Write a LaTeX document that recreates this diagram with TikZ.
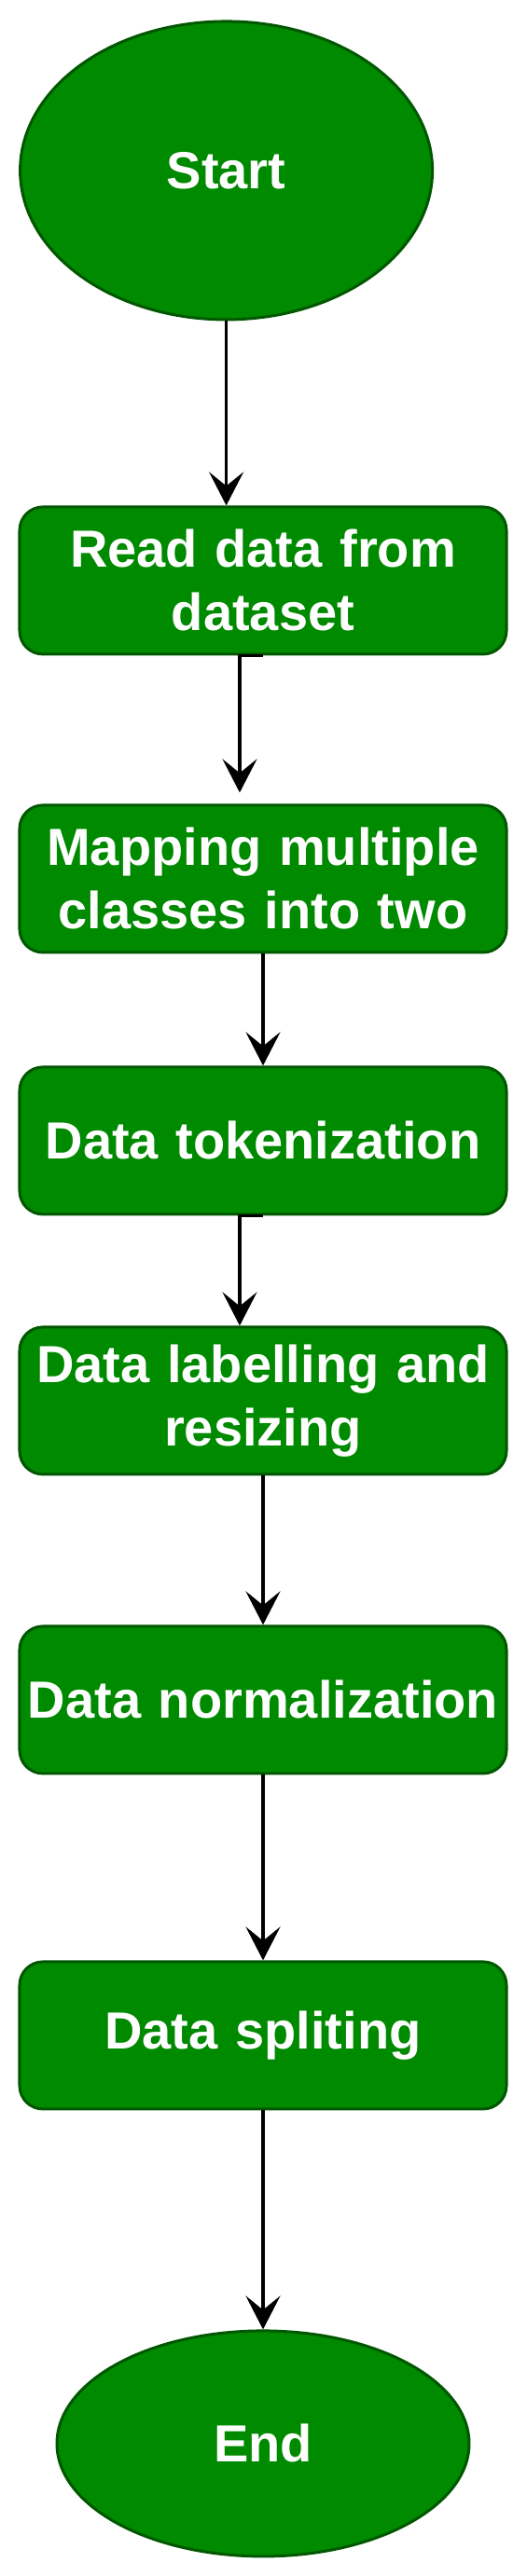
\documentclass[tikz,border=0pt]{standalone}
\usepackage{fontspec}
\setmainfont{Liberation Sans}
\usetikzlibrary{matrix}
\usetikzlibrary{shapes.geometric}
\usetikzlibrary{arrows.meta}

\definecolor{flowgreen}{HTML}{008A00}
\definecolor{flowedge}{HTML}{005700}

\tikzset{
  stepbox/.style={draw=flowedge, fill=flowgreen, line width=1.5pt, rounded corners=12.5pt,
    text width=261pt, minimum height=79pt, inner sep=0pt, align=center},
  terminal/.style={ellipse, draw=flowedge, fill=flowgreen, line width=1.5pt,
    minimum width=221pt, inner sep=0pt},
  flow/.style={-{Stealth[length=18pt,width=18.5pt,inset=7.5pt]}, line width=1.7pt},
  elbow/.style={to path={-| (\tikztotarget)}}
}

\begin{document}
\begin{tikzpicture}
  \useasboundingbox (0,0) rectangle (282pt,-1382pt);
  \matrix (m) [matrix of nodes, row sep=0pt, inner sep=0pt, matrix anchor=north,
    nodes={font=\bfseries\fontsize{28}{34}\selectfont, text=white}] at (141pt,-10.5pt)
  {
     |[terminal, minimum height=160pt, xshift=-19.7pt]| Start \\[99pt]   % (1,1)
     |[stepbox]| {Read data from\\ dataset} \\[79.5pt]                   % (2,1)
     |[stepbox]| {Mapping multiple\\ classes into two} \\[60pt]          % (3,1)
     |[stepbox]| Data tokenization \\[59pt]                              % (4,1)
     |[stepbox]| {Data labelling and\\ resizing} \\[80pt]                % (5,1)
     |[stepbox]| Data normalization \\[99.5pt]                           % (6,1)
     |[stepbox]| Data spliting \\[117.5pt]                               % (7,1)
     |[terminal, minimum height=121pt]| End \\                           % (8,1)
  };
  \path[flow, every edge/.append style={flow}]
    (m-1-1.south) edge (m-1-1.south |- m-2-1.north)
    (m-2-1.south) edge[elbow] ([xshift=-12.5pt, yshift=6pt]m-3-1.north)
    (m-3-1.south) edge (m-4-1.north)
    (m-4-1.south) edge[elbow] ([xshift=-12.5pt]m-5-1.north)
    (m-5-1.south) edge (m-6-1.north)
    (m-6-1.south) edge (m-7-1.north)
    (m-7-1.south) edge (m-8-1.north);
\end{tikzpicture}
\end{document}
